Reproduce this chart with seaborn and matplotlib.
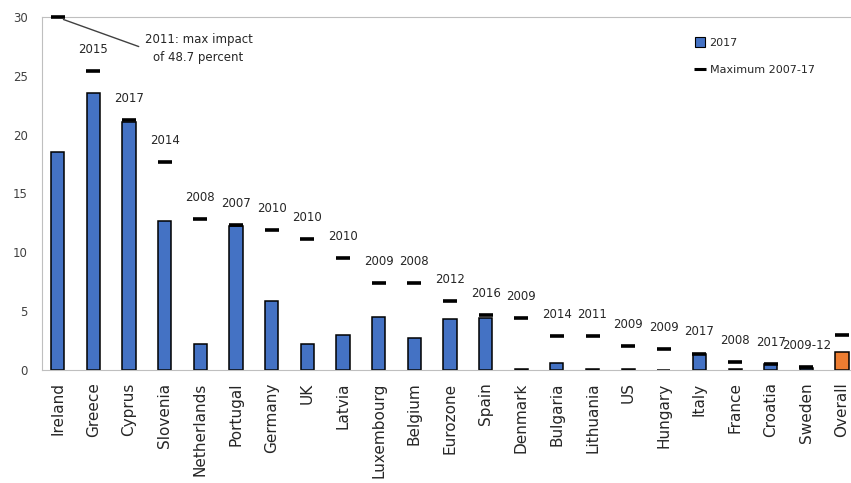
import numpy as np
import matplotlib
matplotlib.use("Agg")
import matplotlib.pyplot as plt
import seaborn as sns
from matplotlib.lines import Line2D
from matplotlib.patches import Patch

countries = ["Ireland", "Greece", "Cyprus", "Slovenia", "Netherlands", "Portugal",
             "Germany", "UK", "Latvia", "Luxembourg", "Belgium", "Eurozone", "Spain",
             "Denmark", "Bulgaria", "Lithuania", "US", "Hungary", "Italy", "France",
             "Croatia", "Sweden", "Overall"]
impact_2017 = [18.5, 23.5, 21.1, 12.7, 2.2, 12.2, 5.9, 2.2, 3.0, 4.5, 2.7, 4.3, 4.4,
               0.1, 0.6, 0.1, 0.1, 0.0, 1.4, 0.1, 0.5, 0.2, 1.5]
impact_max = [48.7, 25.4, 21.2, 17.7, 12.8, 12.3, 11.9, 11.1, 9.5, 7.4, 7.4, 5.9, 4.7,
              4.4, 2.9, 2.9, 2.0, 1.8, 1.4, 0.7, 0.5, 0.25, 3.0]
max_years = ["", "2015", "2017", "2014", "2008", "2007", "2010", "2010", "2010", "2009",
             "2008", "2012", "2016", "2009", "2014", "2011", "2009", "2009", "2017",
             "2008", "2017", "2009-12", ""]

sns.set_style("white")
plt.rcParams['font.family'] = ['DejaVu Sans']

blue = "#4472C4"
orange = "#ED7D31"
colors = [orange if c == "Overall" else blue for c in countries]

fig, ax = plt.subplots(figsize=(8.51, 4.83), dpi=100)
fig.subplots_adjust(left=0.049, right=1.0, bottom=0.234, top=0.965)

sns.barplot(x=countries, y=impact_2017, hue=countries, palette=colors, legend=False,
            width=0.37, saturation=1, edgecolor="black", linewidth=1.1, ax=ax, zorder=2)

ymax_plot = np.minimum(impact_max, 30)
xs = np.arange(len(countries))
ax.scatter(xs, ymax_plot, marker="_", s=110, color="black", linewidths=2.6,
           zorder=3, clip_on=False)

for i, (yr, v) in enumerate(zip(max_years, ymax_plot)):
    if yr:
        ax.annotate(yr, (i, v), xytext=(0, 15.5), textcoords="offset points",
                    ha="center", va="center", fontsize=8.5, color="#262626")

ax.annotate("2011: max impact\nof 48.7 percent", xy=(0.05, 29.9), xytext=(3.95, 27.3),
            textcoords="data", ha="center", va="center", fontsize=8.5, color="#262626",
            linespacing=1.5,
            arrowprops=dict(arrowstyle="-", color="#404040", lw=1.0,
                            relpos=(0.0, 0.5), shrinkA=2, shrinkB=3))

ax.set_ylim(0, 30)
ax.set_xlim(-0.45, 22.25)
ax.set_yticks([0, 5, 10, 15, 20, 25, 30])
ax.tick_params(axis="y", labelsize=8.5, colors="#404040", length=0, pad=10)
ax.tick_params(axis="x", labelsize=11, length=0, pad=9)
plt.setp(ax.get_xticklabels(), rotation=90, color="#262626")

for side in ["left", "bottom", "top"]:
    ax.spines[side].set_color("#BFBFBF")
    ax.spines[side].set_linewidth(0.8)
ax.spines["right"].set_visible(False)

handles = [Patch(facecolor=blue, edgecolor="black", linewidth=0.8, label="2017"),
           Line2D([], [], marker="_", linestyle="none", color="black",
                  markersize=8, markeredgewidth=2.2, label="Maximum 2007-17")]
ax.legend(handles=handles, loc="upper left", bbox_to_anchor=(0.795, 0.97),
          frameon=False, fontsize=8, handlelength=0.9, handleheight=0.9,
          handletextpad=0.4, labelspacing=1.5)

plt.savefig("out.png", dpi=100)
